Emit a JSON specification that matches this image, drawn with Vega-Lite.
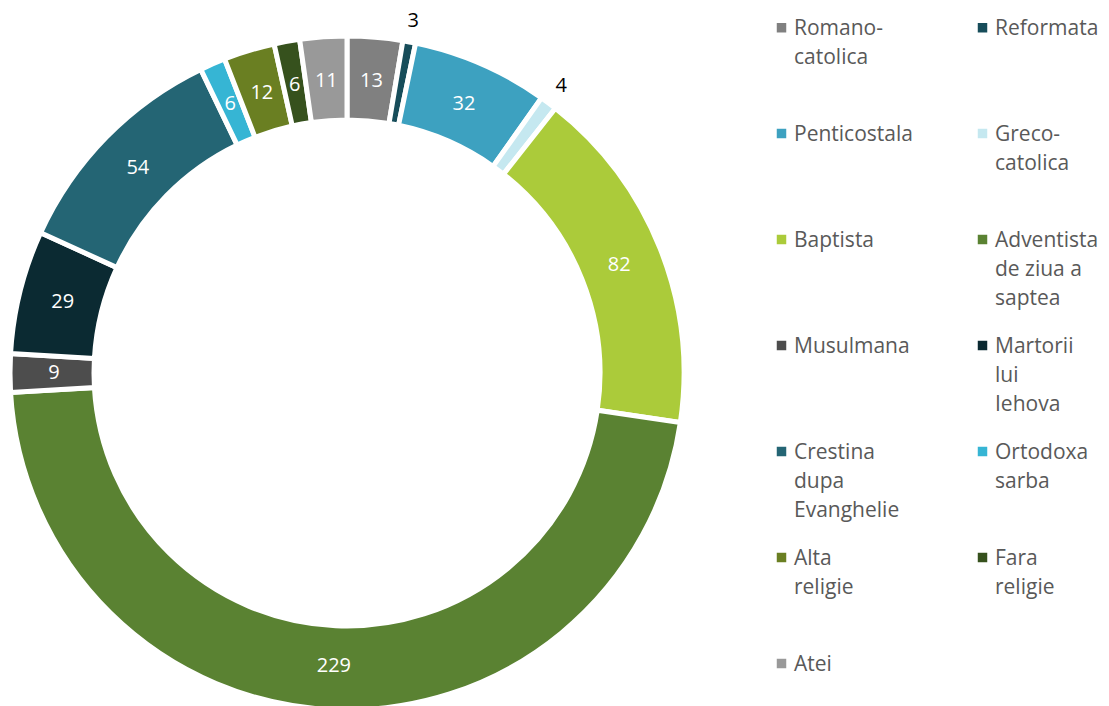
{
  "$schema": "https://vega.github.io/schema/vega-lite/v6.json",
  "width": 694,
  "height": 746,
  "padding": 0,
  "background": "white",
  "config": {
    "view": {"stroke": null},
    "font": "Open Sans",
    "style": {"guide-label": {"lineHeight": 29, "dy": -10}}
  },
  "data": {"values": [
    {"idx": 1, "religie": "Romano-catolica", "value": 13},
    {"idx": 2, "religie": "Reformata", "value": 3},
    {"idx": 3, "religie": "Penticostala", "value": 32},
    {"idx": 4, "religie": "Greco-catolica", "value": 4},
    {"idx": 5, "religie": "Baptista", "value": 82},
    {"idx": 6, "religie": "Adventista de ziua a saptea", "value": 229},
    {"idx": 7, "religie": "Musulmana", "value": 9},
    {"idx": 8, "religie": "Martorii lui Iehova", "value": 29},
    {"idx": 9, "religie": "Crestina dupa Evanghelie", "value": 54},
    {"idx": 10, "religie": "Ortodoxa sarba", "value": 6},
    {"idx": 11, "religie": "Alta religie", "value": 12},
    {"idx": 12, "religie": "Fara religie", "value": 6},
    {"idx": 13, "religie": "Atei", "value": 11}
  ]},
  "encoding": {
    "theta": {"field": "value", "type": "quantitative", "stack": true},
    "order": {"field": "idx", "type": "quantitative"}
  },
  "layer": [
    {
      "mark": {"type": "arc", "radius": 337, "radius2": 253, "stroke": "white", "strokeWidth": 5},
      "encoding": {
        "color": {
          "field": "religie",
          "type": "nominal",
          "scale": {
            "domain": ["Romano-catolica", "Reformata", "Penticostala", "Greco-catolica", "Baptista", "Adventista de ziua a saptea", "Musulmana", "Martorii lui Iehova", "Crestina dupa Evanghelie", "Ortodoxa sarba", "Alta religie", "Fara religie", "Atei"],
            "range": ["#808080", "#174D5A", "#3DA1C0", "#C5E8F0", "#ABCB3A", "#5A8232", "#4D4D4D", "#0B2A32", "#246574", "#36B5D4", "#6A7F22", "#36511D", "#999999"]
          },
          "legend": {
            "orient": "none",
            "legendX": 771,
            "legendY": 17,
            "direction": "horizontal",
            "columns": 2,
            "title": null,
            "symbolType": "square",
            "symbolSize": 90,
            "symbolStrokeWidth": 0,
            "labelFontSize": 21,
            "labelColor": "#595959",
            "labelFont": "Open Sans",
            "labelLimit": 0,
            "gridAlign": "all",
            "columnPadding": 59,
            "rowPadding": 26,
            "labelBaseline": "top",
            "labelOffset": 2,
            "labelExpr": "datum.label == 'Romano-catolica' ? ['Romano-','catolica',''] : datum.label == 'Greco-catolica' ? ['Greco-','catolica',''] : datum.label == 'Adventista de ziua a saptea' ? ['Adventista','de ziua a','saptea'] : datum.label == 'Martorii lui Iehova' ? ['Martorii','lui','Iehova'] : datum.label == 'Crestina dupa Evanghelie' ? ['Crestina','dupa','Evanghelie'] : datum.label == 'Ortodoxa sarba' ? ['Ortodoxa','sarba',''] : datum.label == 'Alta religie' ? ['Alta','religie',''] : datum.label == 'Fara religie' ? ['Fara','religie',''] : [datum.label,'','']"
          }
        }
      }
    },
    {
      "mark": {
        "type": "text",
        "fontSize": 20,
        "font": "Open Sans",
        "radius": {"expr": "datum.value < 5 ? 358 : 293"},
        "fill": {"expr": "datum.value < 5 ? 'black' : 'white'"}
      },
      "encoding": {
        "text": {"field": "value", "type": "quantitative"}
      }
    }
  ]
}
